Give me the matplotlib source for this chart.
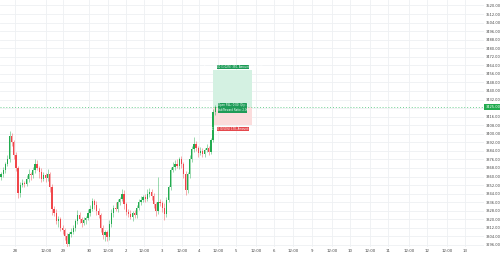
import matplotlib.pyplot as plt
from matplotlib.patches import Rectangle

# 1h candles, closes (open = previous close)
first_open = 3360
closes = [3362, 3366, 3372, 3376, 3398, 3392, 3380, 3368, 3345, 3352,
          3354, 3353, 3358, 3362, 3361, 3366, 3372, 3368, 3364, 3358,
          3361, 3359, 3362, 3350, 3330, 3326, 3318, 3320, 3312, 3310,
          3304, 3297, 3306, 3308, 3312, 3318, 3324, 3320, 3317, 3319,
          3321, 3326, 3330, 3337, 3333, 3328, 3324, 3312, 3305, 3308,
          3303, 3316, 3326, 3331, 3330, 3336, 3339, 3344, 3334, 3327,
          3325, 3322, 3326, 3324, 3331, 3336, 3338, 3341, 3339, 3344,
          3346, 3342, 3334, 3328, 3336, 3335, 3331, 3325, 3338, 3350,
          3366, 3369, 3372, 3370, 3376, 3372, 3362, 3347, 3362, 3376,
          3386, 3390, 3387, 3382, 3384, 3381, 3385, 3387, 3383, 3394,
          3420, 3425]
wick_up = [2, 3, 2, 4, 5, 3, 2, 3, 2, 3,
           4, 2, 3, 5, 2, 3, 4, 3, 2, 4,
           3, 2, 5, 2, 3, 2, 4, 3, 2, 3,
           2, 3, 2, 4, 3, 2, 5, 3, 2, 3,
           2, 4, 3, 3, 2, 4, 3, 2, 3, 2,
           2, 3, 4, 2, 5, 3, 2, 4, 3, 2,
           3, 4, 2, 3, 2, 3, 4, 2, 3, 4,
           3, 2, 3, 2, 24, 3, 2, 4, 3, 2,
           3, 5, 3, 4, 2, 3, 2, 3, 2, 4,
           3, 7, 3, 2, 4, 3, 2, 3, 2, 2,
           3, 2]
wick_dn = [3, 2, 3, 2, 2, 3, 4, 3, 5, 4,
           2, 3, 2, 3, 4, 2, 3, 2, 5, 3,
           2, 4, 3, 4, 6, 3, 2, 5, 3, 4,
           3, 3, 2, 3, 2, 3, 2, 3, 4, 2,
           3, 2, 3, 2, 3, 4, 3, 4, 3, 5,
           3, 2, 3, 4, 2, 3, 3, 2, 4, 3,
           3, 2, 4, 3, 3, 2, 3, 2, 3, 2,
           3, 4, 3, 5, 3, 3, 4, 6, 3, 2,
           3, 2, 3, 2, 3, 4, 3, 4, 2, 3,
           2, 3, 3, 4, 2, 3, 3, 2, 3, 2,
           2, 2]

# long position tool
entry_price = 3425
target_price = 3460
stop_price = 3408
pos_start, pos_end = 100, 118.4
target_text = "Target: 35.00 (1.02%) 350, Amount: 3 460.00"
pnl_text = "Open P&L: 0.00, Qty: 1"
rr_text = "Risk/Reward Ratio: 2.06"
stop_text = "Stop: 17.00 (0.50%) 170, Amount: 3 408.00"

price_ticks = list(range(3296, 3521, 8))
time_tick_pos = [6.6, 21.2, 29.2, 41.5, 50.5, 59, 67.5, 76, 85.4, 93.4, 102.4, 110.8,
                 120.3, 128.8, 137.7, 146.7, 156.1, 164.6, 174, 182.5, 192.5, 201, 210.4, 218.9]
time_tick_labels = ["28", "12:00", "29", "30", "12:00", "2", "12:00", "3", "12:00", "4", "12:00", "5",
                    "12:00", "6", "12:00", "9", "12:00", "10", "12:00", "11", "12:00", "12", "12:00", "13"]

UP = '#22ab4f'
DOWN = '#f0464a'
GRID = '#eef0f3'

opens = [first_open] + closes[:-1]
xs = list(range(len(closes)))

fig = plt.figure(figsize=(5, 2.54), dpi=100)
ax = fig.add_axes([0, 7 / 254, 484 / 500, 247 / 254])

for t in price_ticks:
    ax.axhline(t, color=GRID, lw=0.6, zorder=0)
for t in time_tick_pos:
    ax.axvline(t, color=GRID, lw=0.6, zorder=0)

# position boxes
ax.add_patch(Rectangle((pos_start, entry_price), pos_end - pos_start, target_price - entry_price,
                       facecolor='#d4f1e2', edgecolor='none', zorder=1))
ax.add_patch(Rectangle((pos_start, stop_price), pos_end - pos_start, entry_price - stop_price,
                       facecolor='#fbdcdc', edgecolor='none', zorder=1))

for x, o, c, wu, wd in zip(xs, opens, closes, wick_up, wick_dn):
    col = UP if c >= o else DOWN
    hi = max(o, c) + wu
    lo = min(o, c) - wd
    ax.vlines(x, lo, hi, color=col, lw=0.45, alpha=0.7, zorder=2)
    ax.bar(x, max(abs(c - o), 0.6), bottom=min(o, c), width=0.6, color=col, lw=0, zorder=3)

# current price line
ax.axhline(closes[-1], color='#6fd293', lw=0.7, ls=(0, (1, 2)), zorder=1)

# position labels
mid = (pos_start + pos_end) / 2
ax.add_patch(Rectangle((101.9, 3460.8), 15.1, 3.6, facecolor='#1e9c58', edgecolor='none', zorder=4))
ax.text(mid, 3462.6, target_text, fontsize=1.9, color='white', ha='center', va='center', zorder=5)
ax.add_patch(Rectangle((102.4, 3419.5), 13.8, 9.3, facecolor='#1e9c58', edgecolor='none', zorder=4))
ax.text(mid, 3426.5, pnl_text, fontsize=1.9, color='white', ha='center', va='center', zorder=5)
ax.text(mid, 3422.0, rr_text, fontsize=1.9, color='white', ha='center', va='center', zorder=5)
ax.add_patch(Rectangle((101.9, 3402.6), 15.1, 3.8, facecolor='#e5484d', edgecolor='none', zorder=4))
ax.text(mid, 3404.5, stop_text, fontsize=1.9, color='white', ha='center', va='center', zorder=5)

ax.set_xlim(-0.5, 227.8)
ax.set_ylim(3294.1, 3525.1)

ax.yaxis.tick_right()
ax.set_yticks(price_ticks)
# the tick hidden behind the last-price tag gets no label
ax.set_yticklabels(["" if abs(t - closes[-1]) < 4 else f"{t:.2f}" for t in price_ticks])
ax.set_xticks(time_tick_pos)
ax.set_xticklabels(time_tick_labels)
ax.tick_params(axis='y', length=0, pad=1.5, labelsize=2.6, labelcolor='#444444')
ax.tick_params(axis='x', length=0, pad=1.2, labelsize=2.8, labelcolor='#444444')
for s in ax.spines.values():
    s.set_visible(False)

# last price tag on the price scale
ax.text(1.003, closes[-1], f"{closes[-1]:.2f}", transform=ax.get_yaxis_transform(),
        fontsize=2.6, color='white', ha='left', va='center', clip_on=False, zorder=6,
        bbox=dict(boxstyle='square,pad=0.35', facecolor='#22ab4f', edgecolor='none'))

fig.savefig('out.png', dpi=100, facecolor='white')
